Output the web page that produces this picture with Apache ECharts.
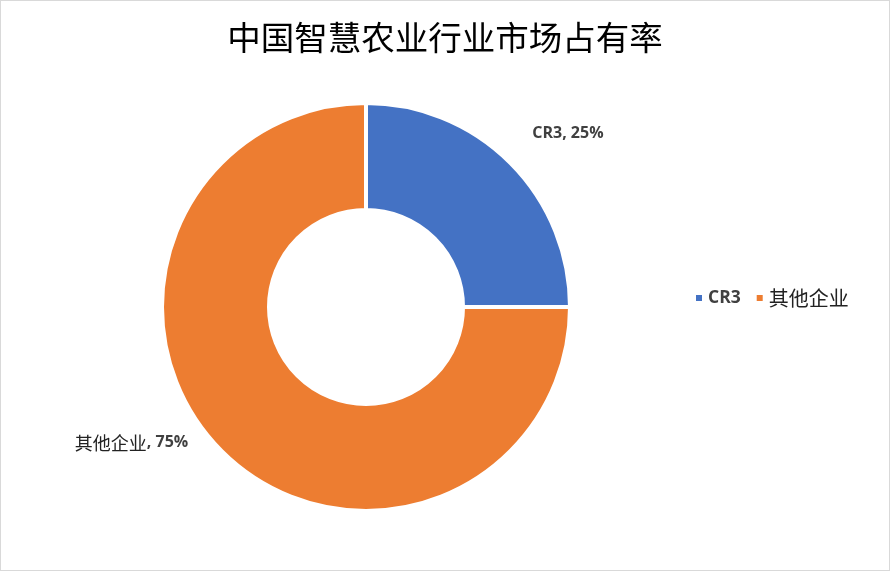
<!DOCTYPE html>
<html>
<head>
<meta charset="utf-8">
<script src="https://cdn.jsdelivr.net/npm/echarts@6/dist/echarts.min.js"></script>
<style>
  html, body { margin: 0; padding: 0; background: #fff; }
  #chart { width: 888px; height: 569px; border: 1px solid #d9d9d9; }
</style>
</head>
<body>
<div id="chart"></div>
<script>
// 数据
var names = ['CR3', '其他企业'];
var shares = [25, 75];
var colors = ['#4472C4', '#ED7D31'];

var chart = echarts.init(document.getElementById('chart'));

// 标签位置（每个扇区单独调）
var lineLen = [41, -12];
var lineLen2 = [-7, 42];

var pieData = names.map(function (n, i) {
  return {
    name: n,
    value: shares[i],
    itemStyle: { color: colors[i] },
    labelLine: { show: false, length: lineLen[i], length2: lineLen2[i] }
  };
});

var option = {
  backgroundColor: '#fff',
  //标题
  title: {
    text: '中国智慧农业行业市场占有率',
    left: 'center',
    top: 15,
    textStyle: {
      fontFamily: 'Noto Sans CJK SC',
      fontSize: 33.5,
      fontWeight: 'normal',
      color: '#000'
    }
  },
  //图例
  legend: {
    data: names,
    left: 688,
    top: 282,
    orient: 'horizontal',
    icon: 'rect',
    itemWidth: 8,
    itemHeight: 8,
    itemGap: 14,
    formatter: function (n) {
      return n === 'CR3' ? '{b|' + n + '}' : '{c|' + n + '}';
    },
    textStyle: {
      rich: {
        b: { fontFamily: 'Open Sans', fontWeight: 'bold', fontSize: 17.5, color: '#404040' },
        c: { fontFamily: 'Noto Sans CJK SC', fontSize: 20, color: '#222' }
      }
    }
  },
  series: [{
    type: 'pie',
    center: [365, 306],
    radius: [97, 204],
    startAngle: 90,
    clockwise: true,
    avoidLabelOverlap: false,
    itemStyle: { borderColor: '#fff', borderWidth: 4 },
    label: {
      show: true,
      position: 'outside',
      distanceToLabelLine: 0,
      formatter: function (p) {
        var head = p.name === 'CR3' ? '{b|' + p.name + '}' : '{c|' + p.name + '}';
        return head + '{b|, ' + p.value + '%}';
      },
      rich: {
        b: { fontFamily: 'Open Sans', fontWeight: 'bold', fontSize: 16, color: '#404040' },
        c: { fontFamily: 'Noto Sans CJK SC', fontSize: 18, color: '#222' }
      }
    },
    emphasis: { disabled: true },
    data: pieData
  }]
};
chart.setOption(option);
</script>
</body>
</html>
